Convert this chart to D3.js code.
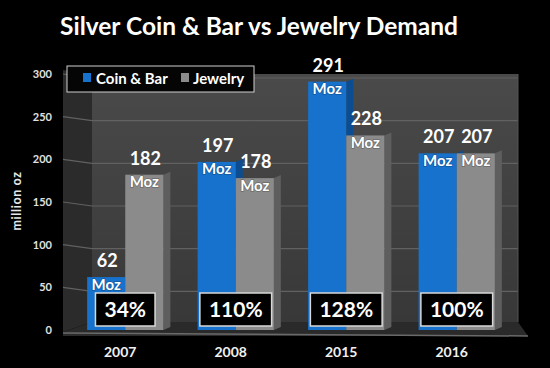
<!DOCTYPE html>
<html><head><meta charset="utf-8">
<script src="https://cdn.jsdelivr.net/npm/d3@7"></script>
<style>
html,body{margin:0;padding:0;background:#000;}
svg{display:block;}
text{font-family:Lato,"Open Sans",sans-serif;font-weight:bold;}
</style></head>
<body>
<svg id="c" width="550" height="368"></svg>
<script>
const years = ["2007", "2008", "2015", "2016"];
const coinBar = [62, 197, 291, 207];
const jewelry = [182, 178, 228, 207];
const ratios = ["34%", "110%", "128%", "100%"];
const seriesNames = ["Coin & Bar", "Jewelry"];
const yTicks = [0, 50, 100, 150, 200, 250, 300];

const svg = d3.select("#c");
const W = 550, H = 368;
svg.append("rect").attr("width", W).attr("height", H).attr("fill", "#000");

const y = d3.scaleLinear().domain([0, 300]).range([330, 74]);
const x0 = d3.scaleBand().domain(years).range([70, 512]).paddingInner(0.31).paddingOuter(0.155);
const x1 = d3.scaleBand().domain(seriesNames).range([0, x0.bandwidth()]);

const colors = {front: ["#1672cc", "#8b8b8b"], side: ["#0c4d92", "#5e5e5e"]};

// walls
const wallL = 63, wallB = 92, wallR = 518, wallTop = 70, wallBottom = 322;
svg.append("polygon").attr("points", `${wallL},${wallTop} ${wallB},${wallTop+4} ${wallB},${wallBottom} ${wallL},${332}`).attr("fill", "#2b2b2b");
const g0 = svg.append("defs").append("linearGradient").attr("id","wall").attr("x1",0).attr("x2",0).attr("y1",0).attr("y2",1);
g0.append("stop").attr("offset","0").attr("stop-color","#4a4a4a");
g0.append("stop").attr("offset","1").attr("stop-color","#383838");
svg.append("rect").attr("x", wallB).attr("y", wallTop+4).attr("width", wallR - wallB).attr("height", wallBottom - wallTop - 4).attr("fill", "url(#wall)");
// floor
svg.append("polygon").attr("points", `${wallL},332 ${wallB},${wallBottom} ${wallR},${wallBottom} ${wallR+10},336 ${wallL},336`).attr("fill", "#2a2a2a");
svg.append("line").attr("x1", wallL).attr("x2", wallR+10).attr("y1", 333).attr("y2", 336).attr("stroke", "#6a6a6a").attr("stroke-width", 1.5);

// gridlines
const grid = svg.append("g");
yTicks.filter(t => t > 0).forEach(t => {
  const yy = y(t);
  grid.append("line").attr("x1", wallL).attr("y1", yy).attr("x2", wallB).attr("y2", yy + 4).attr("stroke", "#616161").attr("stroke-width", 1.2);
  grid.append("line").attr("x1", wallB).attr("y1", yy + 4).attr("x2", wallR).attr("y2", yy + 4).attr("stroke", "#616161").attr("stroke-width", 1.2);
});
svg.append("line").attr("x1", wallR).attr("x2", wallR).attr("y1", wallTop+4).attr("y2", wallBottom).attr("stroke","#555");

// y axis labels
const yAxis = d3.axisLeft(y).tickValues(yTicks).tickSize(0).tickPadding(0);
const ya = svg.append("g").attr("transform", "translate(52,0)").call(yAxis);
ya.select(".domain").remove();
ya.selectAll("text").attr("fill", "#e0e0e0").attr("font-size", 11).attr("font-family", "Lato, sans-serif").attr("font-weight", "bold");
svg.append("text").attr("transform", "translate(21,201) rotate(-90)").attr("text-anchor", "middle")
  .attr("fill", "#e8e8e8").attr("font-size", 12.5).attr("letter-spacing", 0.6).text("million oz");

// bars
const data = years.map((yr, i) => ({year: yr, vals: [coinBar[i], jewelry[i]], ratio: ratios[i]}));
const depth = 7, rise = 3;
seriesNames.forEach((s, si) => {
  data.forEach(d => {
    const bx = x0(d.year) + x1(s), bw = x1.bandwidth(), top = y(d.vals[si]), bot = y(0);
    svg.append("polygon")
      .attr("points", `${bx+bw},${top} ${bx+bw+depth},${top-rise} ${bx+bw+depth},${bot-rise} ${bx+bw},${bot}`)
      .attr("fill", colors.side[si]);
    svg.append("rect").attr("x", bx).attr("y", top).attr("width", bw).attr("height", bot - top).attr("fill", colors.front[si]);
    svg.append("text").attr("x", bx + bw / 2).attr("y", top + 12.5).attr("text-anchor", "middle")
      .attr("fill", "#fff").attr("font-size", 15).attr("style", "paint-order:stroke").attr("stroke", "rgba(0,0,0,0.25)").attr("stroke-width", 1.5).text("Moz");
    svg.append("text").attr("x", bx + bw / 2 + 1).attr("y", top - 10).attr("text-anchor", "middle")
      .attr("fill", "#fff").attr("font-size", 18).text(d.vals[si]);
  });
});

// ratio boxes
data.forEach(d => {
  const cx = x0(d.year) + x0.bandwidth() / 2;
  const g = svg.append("g");
  const r = g.append("rect").attr("y", 293).attr("height", 33).attr("fill", "#000").attr("stroke", "#d8d8d8").attr("stroke-width", 1.5);
  const t = g.append("text").attr("x", cx).attr("y", 317).attr("text-anchor", "middle").attr("fill", "#fff").attr("font-size", 21).text(d.ratio);
  const tw = t.node().getComputedTextLength();
  r.attr("x", cx - tw / 2 - 9).attr("width", tw + 18);
});

// year labels
svg.append("g").selectAll("text").data(years).join("text")
  .attr("x", d => x0(d) + x0.bandwidth() / 2 - 5).attr("y", 357).attr("text-anchor", "middle")
  .attr("fill", "#f0f0f0").attr("font-size", 14).text(d => d);

// legend
const lg = svg.append("g");
lg.append("rect").attr("x", 67).attr("y", 66).attr("width", 187).attr("height", 26).attr("fill", "#050505").attr("stroke", "#cfcfcf").attr("stroke-width", 1);
const legX = [83, 181], legTX = [96, 193];
seriesNames.forEach((s, i) => {
  lg.append("rect").attr("x", legX[i]).attr("y", 73).attr("width", 8).attr("height", 9).attr("fill", colors.front[i]);
  lg.append("text").attr("x", legTX[i]).attr("y", 84).attr("fill", "#fff").attr("font-size", 15).text(s);
});

// title
svg.append("text").attr("x", 259).attr("y", 35).attr("text-anchor", "middle").attr("fill", "#fff")
  .attr("font-size", 24.5).text("Silver Coin & Bar vs Jewelry Demand");
</script>
</body></html>
